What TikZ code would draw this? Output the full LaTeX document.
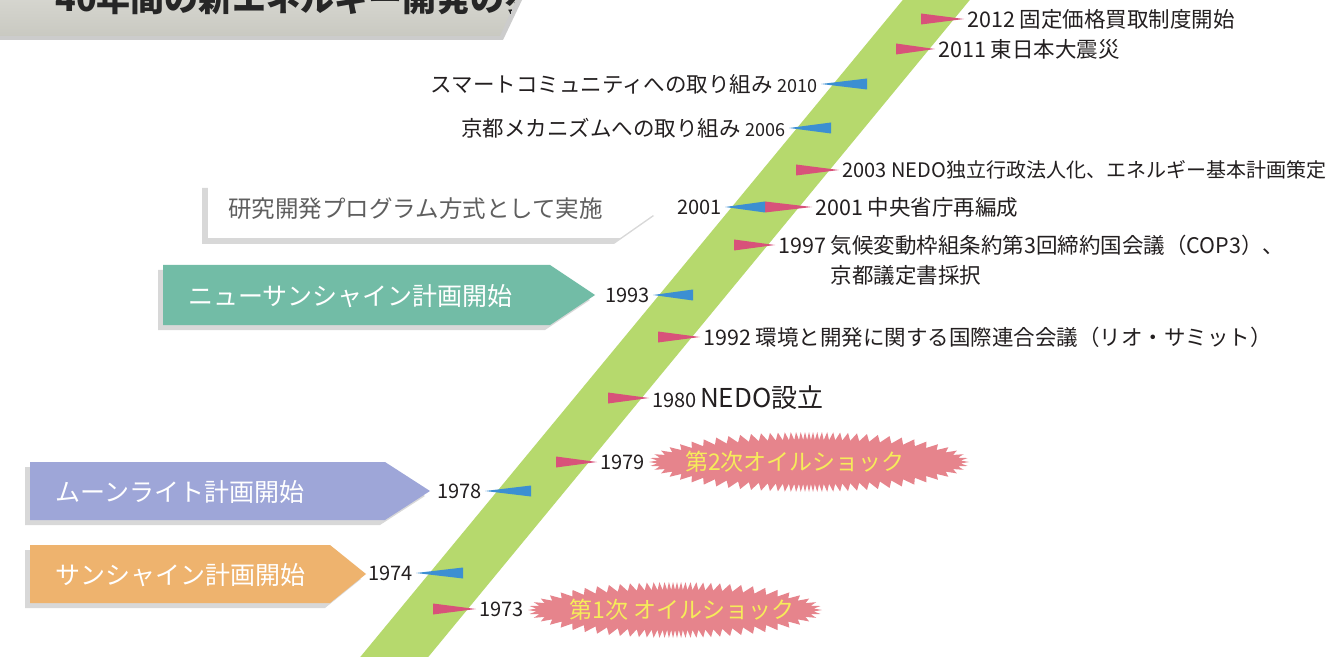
\documentclass[tikz,border=0pt]{standalone}
\usepackage{fontspec}
\setmainfont{Noto Sans CJK JP}
\usetikzlibrary{calc}
\definecolor{stripe}{HTML}{B6D96D}
\definecolor{mred}{HTML}{D8527A}
\definecolor{mblue}{HTML}{3C8FD2}
\definecolor{nsteal}{HTML}{72BCA6}
\definecolor{lav}{HTML}{9EA6D8}
\definecolor{orng}{HTML}{EEB36E}
\definecolor{burstc}{HTML}{E6848C}
\definecolor{bursttext}{HTML}{F6EC5A}
\definecolor{txt}{HTML}{231F20}
\definecolor{graytxt}{HTML}{5F5F5F}
\definecolor{titlebg}{HTML}{C9C9C1}
\tikzset{
 ev/.style={anchor=west, font=\fontsize{10.75}{13}\selectfont, text=txt},
 evl/.style={anchor=east, font=\fontsize{10.75}{13}\selectfont, text=txt},
 yr/.style={font=\fontsize{10}{12}\selectfont, text=txt},
 bantext/.style={anchor=west, font=\fontsize{12.5}{14}\selectfont, text=white},
 bshadow/.style={fill=black!30, opacity=0.5},
 bursttxt/.style={text=bursttext, font=\fontsize{11.5}{13}\selectfont},
 redwedge/.style={fill=mred},
 bluewedge/.style={fill=mblue},
}
\newcommand\rmk[2]{\fill[redwedge] ($(#1.west)+(-3,0)$) -- ++(-#2,-5.5) -- ++(0,11) -- cycle;}
\newcommand\bmk[2]{\fill[bluewedge] ($(#1.east)+(3,0)$) -- ++(#2,-5.5) -- ++(0,11) -- cycle;}
% zig-zag burst: centre x, centre y, half width, half height, N spikes, 2N
\newcommand\burstshape[6]{\fill[burstc] plot[samples=#6+1, domain=0:#6, variable=\k]
  ({#1+(#3-8+8*(1-mod(round(\k),2)))*cos(\k/#5*180+19.5*sin(2*(\k/#5*180)))},
   {#2+(#4-8+8*(1-mod(round(\k),2)))*sin(\k/#5*180+19.5*sin(2*(\k/#5*180)))}) -- cycle;}
\begin{document}
\begin{tikzpicture}[x=0.5pt,y=-0.5pt, every node/.style={inner sep=0pt}]
\useasboundingbox (0,0) rectangle (1336,657);
\fill[white] (0,0) rectangle (1336,657);

% title banner
\fill[black!20] (0,0) -- (522,0) -- (503,40) -- (0,40) -- cycle;
\shade[top color=titlebg!75, bottom color=titlebg] (0,-5) -- (518,-5) -- (500,36) -- (0,36) -- cycle;
\begin{scope}
\clip (0,-5) -- (518,-5) -- (500,36) -- (0,36) -- cycle;
\node[anchor=base west, font=\fontsize{17}{17}\selectfont\bfseries, text=black!85] (title) at (55,12) {40年間の新エネルギー開発の歩み};
\end{scope}

% diagonal stripe
\fill[stripe] (352,667) -- (911,-10) -- (978,-10) -- (420,667) -- cycle;

% white box
\fill[bshadow] (202,188) -- (614,188) -- (654,216) -- (614,244) -- (202,244) -- cycle;
\fill[white] (208,182) -- (620,182) -- (660,210) -- (620,238) -- (208,238) -- cycle;
\node[anchor=west, font=\fontsize{11.75}{13}\selectfont, text=graytxt] (kenkyu) at (228,209) {研究開発プログラム方式として実施};

% teal banner
\fill[bshadow] (158,270) -- (545,270) -- (590,300) -- (545,330) -- (158,330) -- cycle;
\fill[nsteal] (163,265) -- (550,265) -- (595,295) -- (550,325) -- (163,325) -- cycle;
\node[bantext] (newsun) at (188,296) {ニューサンシャイン計画開始};

% lavender banner
\fill[bshadow] (25,467) -- (380,467) -- (425,496) -- (380,525) -- (25,525) -- cycle;
\fill[lav] (30,462) -- (385,462) -- (430,491) -- (385,520) -- (30,520) -- cycle;
\node[bantext] (moon) at (55,492) {ムーンライト計画開始};

% orange banner
\fill[bshadow] (25,550) -- (325,550) -- (361,579) -- (325,608) -- (25,608) -- cycle;
\fill[orng] (30,545) -- (330,545) -- (366,574) -- (330,603) -- (30,603) -- cycle;
\node[bantext] (sun) at (55,575) {サンシャイン計画開始};

% right-side events (red)
\node[ev] (e2012) at (967,19) {2012 固定価格買取制度開始};
\rmk{e2012}{43}
\node[ev] (e2011) at (938,49) {2011 東日本大震災};
\rmk{e2011}{39}
\node[ev, font=\fontsize{10}{12}\selectfont] (e2003) at (842,170) {2003 NEDO独立行政法人化、エネルギー基本計画策定};
\rmk{e2003}{43}
\node[ev] (e2001r) at (815,207) {2001 中央省庁再編成};
\rmk{e2001r}{47}
\node[ev] (e1997) at (778,245) {1997 気候変動枠組条約第3回締約国会議（COP3）、};
\node[ev] (e1997b) at (778,275) {\phantom{1997 }京都議定書採択};
\rmk{e1997}{41}
\node[ev] (e1992) at (703,337) {1992 環境と開発に関する国際連合会議（リオ・サミット）};
\rmk{e1992}{42}
\node[anchor=west, text=txt] (e1980) at (652,398) {{\fontsize{10}{12}\selectfont 1980}\,{\fontsize{13}{15}\selectfont NEDO設立}};
\rmk{e1980}{41}
\node[yr, anchor=west] (y1979) at (600,462) {1979};
\rmk{y1979}{41}
\node[yr, anchor=west] (y1973) at (479,609) {1973};
\rmk{y1973}{43}

% oil shocks
\burstshape{809}{462}{160}{30}{80}{160}
\node[bursttxt] (oil2) at (795,462) {第2次オイルショック};
\burstshape{675}{610}{147}{28}{74}{148}
\node[bursttxt] (oil1) at (682,610) {第1次 オイルショック};

% left-side events (blue)
\node[evl] (e2010) at (818,84) {スマートコミュニティへの取り組み {\fontsize{9}{11}\selectfont 2010}};
\bmk{e2010}{46}
\node[evl] (e2006) at (786,128) {京都メカニズムへの取り組み {\fontsize{9}{11}\selectfont 2006}};
\bmk{e2006}{42}
\node[yr, anchor=east] (y2001) at (722,207) {2001};
\bmk{y2001}{40}
\node[yr, anchor=east] (y1993) at (650,295) {1993};
\bmk{y1993}{40}
\node[yr, anchor=east] (y1978) at (482,491) {1978};
\bmk{y1978}{46}
\node[yr, anchor=east] (y1974) at (413,573) {1974};
\bmk{y1974}{47}
\end{tikzpicture}
\end{document}
